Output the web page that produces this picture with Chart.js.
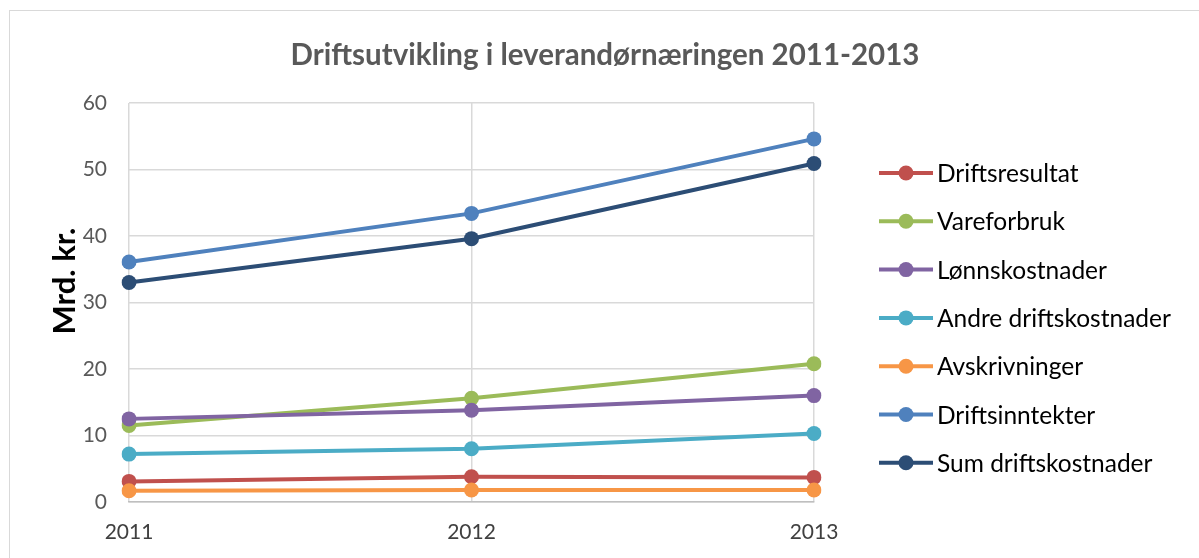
<!DOCTYPE html>
<html>
<head>
<meta charset="utf-8">
<script src="https://cdn.jsdelivr.net/npm/chart.js@4"></script>
<style>
  html, body { margin: 0; padding: 0; background: #fff; overflow: hidden; }
  #frame { position: absolute; left: 9px; top: 10px; width: 1300px; height: 700px; border: 1px solid #d9d9d9; }
  #chart { position: absolute; left: 0; top: 0; }
</style>
</head>
<body>
<div id="frame"></div>
<canvas id="chart" width="1199" height="558"></canvas>
<script>
const years = ["2011", "2012", "2013"];
const yTicks = [0, 10, 20, 30, 40, 50, 60];

const driftsresultat = [3.1, 3.8, 3.7];
const vareforbruk = [11.5, 15.6, 20.8];
const lonnskostnader = [12.5, 13.8, 16.0];
const andreDriftskostnader = [7.2, 8.0, 10.3];
const avskrivninger = [1.7, 1.8, 1.8];
const driftsinntekter = [36.1, 43.4, 54.6];
const sumDriftskostnader = [33.0, 39.6, 50.9];

const seriesNames = [
  "Driftsresultat",
  "Vareforbruk",
  "Lønnskostnader",
  "Andre driftskostnader",
  "Avskrivninger",
  "Driftsinntekter",
  "Sum driftskostnader"
];
const seriesData = [
  driftsresultat,
  vareforbruk,
  lonnskostnader,
  andreDriftskostnader,
  avskrivninger,
  driftsinntekter,
  sumDriftskostnader
];
const seriesColors = ["#c0504d", "#9bbb59", "#8064a2", "#4bacc6", "#f79646", "#4f81bd", "#2c4d75"];

const chartTitle = "Driftsutvikling i leverandørnæringen 2011-2013";
const yTitle = "Mrd. kr.";
const fontFamily = "Lato, 'Open Sans', sans-serif";

// title, y-axis title and the Excel-style legend (line + marker) on the right
const chartText = {
  id: "chartText",
  afterDraw(chart) {
    const ctx = chart.ctx;

    ctx.save();
    ctx.fillStyle = "#595959";
    ctx.font = "bold 29.5px " + fontFamily;
    ctx.textAlign = "center";
    ctx.textBaseline = "alphabetic";
    ctx.fillText(chartTitle, 605, 65);
    ctx.restore();

    ctx.save();
    ctx.translate(75, 281);
    ctx.rotate(-Math.PI / 2);
    ctx.fillStyle = "#000";
    ctx.font = "bold 31px " + fontFamily;
    ctx.textAlign = "center";
    ctx.textBaseline = "alphabetic";
    ctx.fillText(yTitle, 0, 0);
    ctx.restore();

    chart.data.datasets.forEach((ds, i) => {
      const y = 173 + i * 48.3;
      ctx.save();
      ctx.strokeStyle = ds.borderColor;
      ctx.lineWidth = 4;
      ctx.beginPath();
      ctx.moveTo(879, y);
      ctx.lineTo(933, y);
      ctx.stroke();
      ctx.fillStyle = ds.borderColor;
      ctx.beginPath();
      ctx.arc(906, y, 7.5, 0, Math.PI * 2);
      ctx.fill();
      ctx.fillStyle = "#000";
      ctx.font = "24.5px " + fontFamily;
      ctx.textBaseline = "alphabetic";
      ctx.fillText(ds.label, 937, y + 9);
      ctx.restore();
    });
  }
};

new Chart(document.querySelector("#chart"), {
  type: "line",
  data: {
    labels: years,
    datasets: seriesNames.map((name, i) => ({
      label: name,
      data: seriesData[i],
      borderColor: seriesColors[i],
      backgroundColor: seriesColors[i],
      pointBackgroundColor: seriesColors[i],
      pointBorderWidth: 0,
      borderWidth: 4,
      pointRadius: 7.5,
      pointHoverRadius: 7.5,
      tension: 0,
      order: seriesNames.length - i
    }))
  },
  options: {
    responsive: false,
    animation: false,
    layout: { padding: { left: 0, right: 385, top: 103, bottom: 0 } },
    scales: {
      x: {
        offset: false,
        grid: { color: "#d9d9d9", lineWidth: 1.5, drawTicks: false },
        border: { color: "#bfbfbf", width: 1.5 },
        ticks: {
          color: "#404040",
          padding: 18,
          font: { family: fontFamily, size: 21 }
        },
        afterFit(scale) { scale.height = 56; }
      },
      y: {
        min: 0,
        max: 60,
        afterBuildTicks(scale) { scale.ticks = yTicks.map((v) => ({ value: v })); },
        grid: { color: "#d9d9d9", lineWidth: 1.5, drawTicks: false },
        border: { display: false },
        ticks: {
          color: "#595959",
          padding: 22,
          font: { family: fontFamily, size: 21 }
        },
        afterFit(scale) { scale.width = 129; }
      }
    },
    plugins: {
      legend: { display: false },
      tooltip: { enabled: false },
      title: { display: false }
    }
  },
  plugins: [chartText]
});
</script>
</body>
</html>
